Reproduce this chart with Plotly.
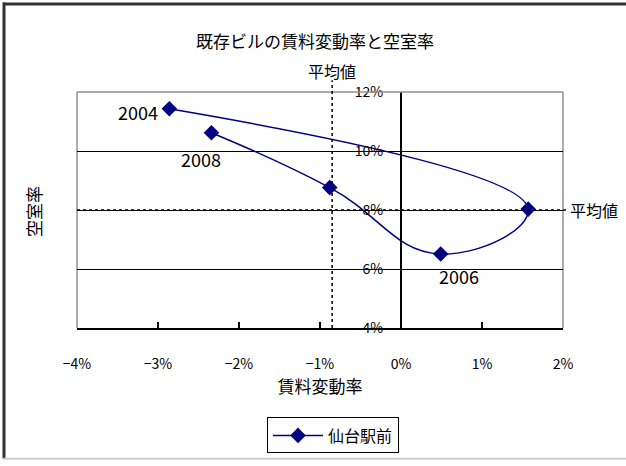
import plotly.graph_objects as go

# ---- data ----
years = ["2004", "2005", "2006", "2007", "2008"]
rent_change = [-2.86, 1.57, 0.49, -0.88, -2.34]   # 賃料変動率 (%)
vacancy = [11.43, 8.03, 6.51, 8.76, 10.62]        # 空室率 (%)
labeled_years = ["2004", "2006", "2008"]
avg_rent = -0.85   # 平均値 (賃料変動率)
avg_vac = 8.0      # 平均値 (空室率)
x_ticks = [-4, -3, -2, -1, 0, 1, 2]
y_ticks = [4, 6, 8, 10, 12]
series_name = "仙台駅前"

# ---- layout geometry ----
W, H = 626, 466
L, R, T, B = 77, 63, 92, 134
PW, PH = W - L - R, H - T - B
FONT = "Noto Sans CJK JP"
NAVY = "#000080"

def px_x(p):
    return (p - L) / PW

def px_y(p):
    return (H - B - p) / PH

def pct(v):
    return ("\u2212" if v < 0 else "") + f"{abs(v)}%"

xmin, xmax = x_ticks[0], x_ticks[-1]
ymin, ymax = y_ticks[0], y_ticks[-1]

fig = go.Figure()
fig.add_trace(go.Scatter(
    x=rent_change, y=vacancy, mode="lines+markers", name=series_name,
    line=dict(color=NAVY, width=1.5, shape="spline", smoothing=1.3),
    marker=dict(symbol="diamond", size=12, color=NAVY),
    showlegend=True,
))

annotations = []
offsets = {"2004": dict(xanchor="right", yanchor="middle", xshift=-9, yshift=-3),
           "2006": dict(xanchor="center", yanchor="top", xshift=18, yshift=-7),
           "2008": dict(xanchor="center", yanchor="top", xshift=-10, yshift=-11)}
for yr, xv, yv in zip(years, rent_change, vacancy):
    if yr in labeled_years:
        annotations.append(dict(x=xv, y=yv, xref="x", yref="y", text=yr, showarrow=False,
                                font=dict(family=FONT, size=18, color="black"), **offsets[yr]))

# average labels
ax_paper = (avg_rent - xmin) / (xmax - xmin)
ay_paper = (avg_vac - ymin) / (ymax - ymin)
annotations.append(dict(x=ax_paper, y=px_y(71), xref="paper", yref="paper", text="平均値",
                        showarrow=False, xanchor="center", yanchor="middle",
                        font=dict(family=FONT, size=16, color="black")))
annotations.append(dict(x=px_x(570), y=ay_paper, xref="paper", yref="paper", text="平均値",
                        showarrow=False, xanchor="left", yanchor="middle", xshift=-2,
                        font=dict(family=FONT, size=16, color="black")))
# title and y axis title
annotations.append(dict(x=px_x(315), y=px_y(40), xref="paper", yref="paper",
                        text="既存ビルの賃料変動率と空室率", showarrow=False,
                        xanchor="center", yanchor="middle",
                        font=dict(family=FONT, size=17, color="black")))
annotations.append(dict(x=px_x(34), y=px_y(214), xref="paper", yref="paper",
                        text="空室率", showarrow=False, textangle=-90,
                        xanchor="center", yanchor="middle",
                        font=dict(family=FONT, size=17, color="black")))

shapes = [
    # plot area border (gray)
    dict(type="line", xref="paper", yref="paper", x0=0, x1=1, y0=1, y1=1,
         line=dict(color="#909090", width=1.5), layer="above"),
    dict(type="line", xref="paper", yref="paper", x0=0, x1=0, y0=0, y1=1,
         line=dict(color="#909090", width=1.5), layer="below"),
    dict(type="line", xref="paper", yref="paper", x0=1, x1=1, y0=0, y1=1,
         line=dict(color="#909090", width=1.5), layer="below"),
    # average lines (dotted)
    dict(type="line", xref="paper", yref="paper", x0=ax_paper, x1=ax_paper,
         y0=0, y1=px_y(80), line=dict(color="black", width=1.5, dash="dot")),
    dict(type="line", xref="paper", yref="paper", x0=0, x1=px_x(569),
         y0=ay_paper, y1=ay_paper, line=dict(color="black", width=1.5, dash="dot")),
    # outer chart border
    dict(type="line", xref="paper", yref="paper", x0=px_x(4), x1=px_x(4),
         y0=px_y(1), y1=px_y(465), line=dict(color="#333333", width=3)),
    dict(type="line", xref="paper", yref="paper", x0=px_x(3), x1=px_x(626),
         y0=px_y(2.5), y1=px_y(2.5), line=dict(color="#333333", width=3)),
    dict(type="line", xref="paper", yref="paper", x0=px_x(3), x1=px_x(626),
         y0=px_y(465), y1=px_y(465), line=dict(color="#cccccc", width=2)),
]

fig.update_layout(
    width=W, height=H,
    margin=dict(l=L, r=R, t=T, b=B),
    paper_bgcolor="white", plot_bgcolor="white",
    font=dict(family=FONT, size=14, color="black"),
    xaxis=dict(range=[xmin, xmax], tickmode="array", tickvals=x_ticks,
               ticktext=[pct(v) for v in x_ticks],
               showgrid=False, zeroline=False, showline=True,
               linecolor="black", linewidth=2, ticks="inside", ticklen=6,
               tickcolor="black", tickwidth=1.5, ticklabelstandoff=22,
               tickfont=dict(family=FONT, size=14),
               title=dict(text="賃料変動率", standoff=6,
                          font=dict(family=FONT, size=17))),
    yaxis=dict(range=[ymin, ymax], tickmode="array", tickvals=y_ticks,
               ticktext=[pct(v) for v in y_ticks],
               anchor="free", position=(0 - xmin) / (xmax - xmin),
               showgrid=True, gridcolor="black", gridwidth=1,
               zeroline=False, showline=True, linecolor="black", linewidth=2,
               ticks="inside", ticklen=5, tickcolor="black",
               ticklabelstandoff=14,
               tickfont=dict(family=FONT, size=14)),
    legend=dict(x=px_x(333), y=px_y(423), xanchor="center", yanchor="top",
                bordercolor="black", borderwidth=1, bgcolor="white",
                itemwidth=50,
                font=dict(family=FONT, size=16)),
    annotations=annotations,
    shapes=shapes,
)

fig.write_html("out.html")
